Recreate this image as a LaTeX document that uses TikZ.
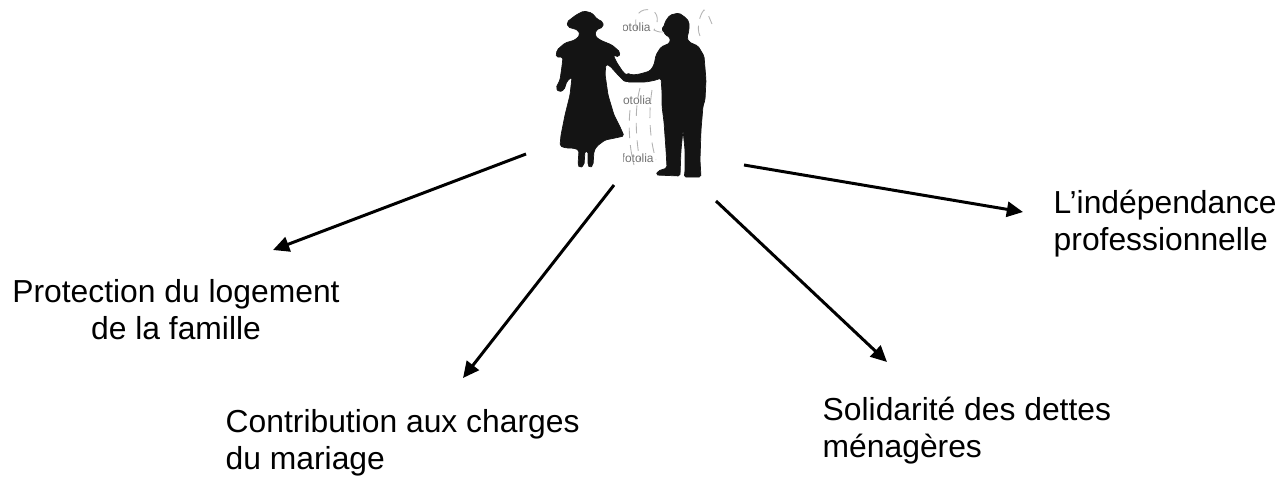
\documentclass[tikz,border=0pt]{standalone}
\usepackage{fontspec}
\setmainfont{Liberation Sans}
\usetikzlibrary{arrows.meta}

\begin{document}
\begin{tikzpicture}[x=0.01cm,y=-0.01cm,
        topic/.style={inner sep=0pt,font=\fontsize{9.05pt}{10.4pt}\selectfont},
        link/.style={-{Triangle[length=4.6pt,width=4.3pt]},line width=0.85pt},
        shadow/.style={fill=black!92,draw=black!92,line width=0.2pt,rounded corners=0.5pt},
        stamp/.style={text=black!55,inner sep=0pt,font=\fontsize{3.4pt}{4pt}\selectfont},
        trace/.style={draw=black!30,line width=0.25pt,densely dashed}
    ]
    \useasboundingbox (0,0) rectangle (1288,502);

    % faded watermark behind the couple
    \begin{scope}
        \clip (623,0) rectangle (720,185);
        \node[stamp,anchor=west] (wm1) at (618,27) {fotolia};
        \node[stamp,anchor=west] (wm2) at (619,100) {fotolia};
        \node[stamp,anchor=west] (wm3) at (621,158) {fotolia};
        \draw[trace] (637,30) .. controls (632,14) and (642,8) .. (650,10) .. controls (660,12) and (658,24) .. (654,30) .. controls (662,34) and (668,32) .. (672,28);
        \draw[trace] (700,36) .. controls (696,28) and (700,14) .. (704,10) .. controls (708,12) and (710,20) .. (712,24);
        \draw[trace] (640,88) .. controls (634,110) and (636,140) .. (640,162);
        \draw[trace] (652,90) .. controls (648,115) and (650,140) .. (656,160);
        \draw[trace] (630,110) .. controls (628,130) and (630,150) .. (634,165);
    \end{scope}

    % the woman
    \filldraw[shadow] (576,15) -- (584,11) -- (592,13) -- (597,19) -- (603,22) -- (603,27) -- (596,30)
        -- (595,36) -- (600,40) -- (612,45) -- (620,52) -- (619,57) -- (613,55) -- (617,63)
        -- (623,72) -- (629,77) -- (630,81) -- (625,82) -- (619,76) -- (610,66) -- (606,64)
        -- (605,74) -- (608,95) -- (614,115) -- (621,129) -- (624,136) -- (615,138) -- (605,140)
        -- (597,146) -- (594,151) -- (593,165) -- (590,168) -- (588,165) -- (588,151) -- (585,151)
        -- (584,165) -- (580,168) -- (578,165) -- (579,150) -- (573,148) -- (566,148) -- (560,146)
        -- (561,135) -- (565,115) -- (570,95) -- (572,77) -- (567,81) -- (564,90) -- (559,92)
        -- (556,88) -- (560,80) -- (562,66) -- (563,57) -- (556,57) -- (557,50) -- (565,43)
        -- (575,40) -- (580,35) -- (578,30) -- (568,27) -- (567,22) -- cycle;

    % the man
    \filldraw[shadow] (686,18) -- (679,13) -- (670,15) -- (665,22) -- (664,27) -- (661,29) -- (664,31)
        -- (665,35) -- (670,37) -- (670,43) -- (661,47) -- (656,55) -- (654,65) -- (650,71)
        -- (640,74) -- (632,75) -- (627,73) -- (624,77) -- (627,82) -- (634,82) -- (646,82)
        -- (656,80) -- (661,78) -- (662,92) -- (662,106) -- (664,122) -- (666,150) -- (667,168)
        -- (658,171) -- (656,175) -- (680,176) -- (681,150) -- (683,130) -- (685,150) -- (685,172)
        -- (684,177) -- (701,177) -- (700,160) -- (701,130) -- (703,106) -- (705,100) -- (706,80)
        -- (704,56) -- (698,46) -- (689,42) -- (687,38) -- (689,30) -- (689,22) -- cycle;

    % what the marriage brings
    \node[topic,anchor=base,align=center] (logement) at (176,339) {Protection du logement\\de la famille};
    \node[topic,anchor=base west,align=left] (charges) at (225,469) {Contribution aux charges\\du mariage};
    \node[topic,anchor=base west,align=left] (dettes) at (822,457) {Solidarité des dettes\\ménagères};
    \node[topic,anchor=base west,align=left] (metier) at (1053,250) {L’indépendance\\professionnelle};

    \coordinate (from1) at (526,154);
    \coordinate (from2) at (614,185);
    \coordinate (from3) at (716,201);
    \coordinate (from4) at (744,165);
    \coordinate (to1) at (273,250);
    \coordinate (to2) at (463,378);
    \coordinate (to3) at (887,362);
    \coordinate (to4) at (1023,212);

    \draw[link] (from1) -- (to1);
    \draw[link] (from2) -- (to2);
    \draw[link] (from3) -- (to3);
    \draw[link] (from4) -- (to4);
\end{tikzpicture}
\end{document}
